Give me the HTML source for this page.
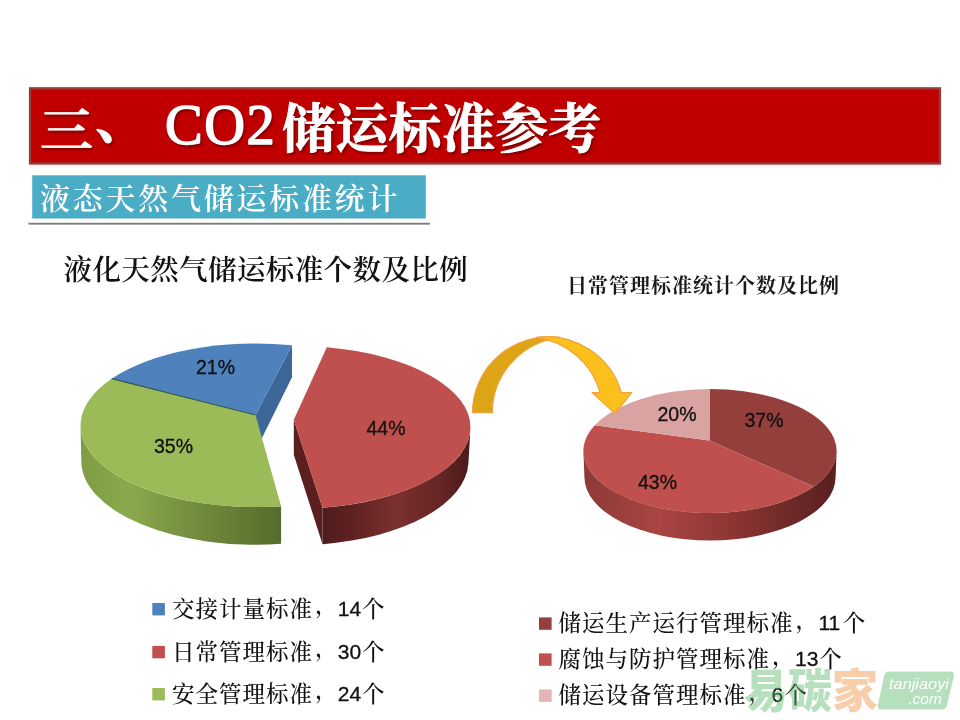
<!DOCTYPE html>
<html lang="zh-CN"><head><meta charset="utf-8"><title>CO2储运标准参考</title>
<style>
html,body{margin:0;padding:0;background:#fff;}
body{width:960px;height:720px;overflow:hidden;font-family:"Liberation Sans","Noto Sans CJK SC",sans-serif;}
svg{display:block}
</style></head><body>
<svg width="960" height="720" viewBox="0 0 960 720">
<rect width="960" height="720" fill="#ffffff"/>
<defs>
<linearGradient id="gGreenWall" x1="0" x2="1" y1="0" y2="0"><stop offset="0" stop-color="#7f9d44"/><stop offset="0.25" stop-color="#8aa94c"/><stop offset="0.6" stop-color="#6f8a3c"/><stop offset="1" stop-color="#566c2c"/></linearGradient>
<linearGradient id="gRedWall" x1="0" x2="1" y1="0" y2="0"><stop offset="0" stop-color="#4e1c1b"/><stop offset="0.2" stop-color="#5f2221"/><stop offset="0.5" stop-color="#7b302e"/><stop offset="0.8" stop-color="#642524"/><stop offset="1" stop-color="#4a1a19"/></linearGradient>
<linearGradient id="gRWall" x1="0" x2="1" y1="0" y2="0"><stop offset="0" stop-color="#8d3a38"/><stop offset="0.3" stop-color="#a94542"/><stop offset="0.6" stop-color="#8a3533"/><stop offset="0.85" stop-color="#6a2827"/><stop offset="1" stop-color="#571f1e"/></linearGradient>
<linearGradient id="gArrowD" x1="0" x2="1" y1="1" y2="0"><stop offset="0" stop-color="#e9a71c"/><stop offset="1" stop-color="#dca018"/></linearGradient>
<filter id="sh" x="-5%" y="-20%" width="110%" height="160%"><feGaussianBlur stdDeviation="1.6"/></filter>
<filter id="tsh" x="-5%" y="-20%" width="110%" height="150%"><feGaussianBlur stdDeviation="1.2"/></filter>
<filter id="glow" x="-20%" y="-20%" width="140%" height="140%"><feGaussianBlur stdDeviation="2"/></filter>
</defs>
<rect x="29" y="160" width="912" height="7" fill="#b0b0b0" opacity="0.2" filter="url(#sh)"/>
<rect x="30.1" y="88.4" width="909.8" height="75" fill="#c00000" stroke="#963a36" stroke-width="2.4"/>
<g font-family="'Liberation Serif','Noto Serif CJK SC',serif" font-weight="700" font-size="53" fill="#4a0000" opacity="0.55" filter="url(#tsh)" transform="translate(1.5,2)" stroke="#4a0000" stroke-width="1">
<text x="40" y="146.5" transform="translate(0,148) scale(1,0.885) translate(0,-148)">三</text>
<text x="95" y="139">、</text>
<text x="165" y="144" font-size="56.5" font-weight="400" letter-spacing="1.5" stroke-width="1.5">CO2</text>
<text x="282" y="147.8" letter-spacing="0.3">储运标准参考</text>
</g>
<g font-family="'Liberation Serif','Noto Serif CJK SC',serif" font-weight="700" font-size="53" fill="#fff" stroke="#fff" stroke-width="0.9" stroke-linejoin="round">
<text x="40" y="146.5" transform="translate(0,148) scale(1,0.885) translate(0,-148)">三</text>
<text x="95" y="139">、</text>
<text x="165" y="144" font-size="56.5" font-weight="400" letter-spacing="1.5" stroke-width="1.5">CO2</text>
<text x="282" y="147.8" letter-spacing="0.3">储运标准参考</text>
</g>
<rect x="28.5" y="221" width="401.5" height="3.6" fill="#7a7a7a"/>
<rect x="28.5" y="171.5" width="401.5" height="51.3" fill="#ffffff"/>
<rect x="32.2" y="175.3" width="393.6" height="43.2" fill="#4bacc6"/>
<text x="40" y="208.5" font-family="'Liberation Serif','Noto Serif CJK SC',serif" font-weight="600" font-size="30" fill="#fff" letter-spacing="2.75">液态天然气储运标准统计</text>
<text x="63.5" y="279.5" font-family="'Liberation Serif','Noto Serif CJK SC',serif" font-weight="600" font-size="28.5" fill="#111" letter-spacing="0.4">液化天然气储运标准个数及比例</text>
<text x="567" y="293" font-family="'Liberation Serif','Noto Serif CJK SC',serif" font-weight="700" font-size="20" fill="#1a1a1a" letter-spacing="1.0">日常管理标准统计个数及比例</text>
<path d="M255.5 415.0 L292.0 345.3 L292.0 377.3 L255.5 451.0 Z" fill="#3d6799"/>
<path d="M80.5 425.3 A175 81.8 0 0 0 281.1 506.2 L281.1 543.8 A174.2 83.6 0 0 1 81.3 460.8 Z" fill="url(#gGreenWall)"/>
<path d="M255.5 415.0 L292.0 345.3 A175 81.8 0 0 0 111.7 378.7 Z" fill="#4f81bd"/>
<path d="M255.5 415.0 L111.7 378.7 A175 81.8 0 0 0 281.1 506.2 Z" fill="#9bbb59"/>
<path d="M111.7 378.7 L255.5 415.0" stroke="#2f5a4a" stroke-width="1.2" fill="none"/>
<path d="M293.8 419.8 L322.5 507.7 L322.5 544.2 L293.8 454.8 Z" fill="#5a1f1e"/>
<path d="M470.5 427.3 A176.5 81.5 0 0 1 322.5 507.7 L322.5 544.2 A174.5 84.5 0 0 0 468.4 463.4 Z" fill="url(#gRedWall)"/>
<path d="M293.8 419.8 L326.8 347.2 A176.5 81.5 0 0 1 322.5 507.7 Z" fill="#c0504d"/>
<path d="M583.4 451.0 A126.6 62 0 0 0 836.6 451.0 L835.6 477.0 A125.6 63.5 0 0 1 584.4 477.0 Z" fill="url(#gRWall)"/>
<path d="M709.5 440.6 L709.6 389.0 A126.6 62 0 0 1 813.7 486.6 Z" fill="#953f3c"/>
<path d="M709.5 440.6 L813.7 486.6 A126.6 62 0 0 1 594.8 425.3 Z" fill="#c0504d"/>
<path d="M709.5 440.6 L594.8 425.3 A126.6 62 0 0 1 709.6 389.0 Z" fill="#d9a3a1"/>
<path d="M472.5 412.7 A77.5 76 0 0 1 560 337.3 A77.5 76 0 0 0 492.3 412.7 Z" fill="#dda416" stroke="#f2a23c" stroke-width="1.3" stroke-linejoin="round"/>
<path d="M536 337.4 A77.5 76 0 0 1 621.2 392.6 L631.7 392.6 L615 413.6 L592.1 392.6 L600.2 392.6 A77.5 76 0 0 0 536 337.4 Z" fill="#fcc01c" stroke="#f2a23c" stroke-width="1.3" stroke-linejoin="round"/>
<g font-family="'Liberation Sans',sans-serif" font-size="19.5" fill="#111" stroke="#111" stroke-width="0.3" text-anchor="middle">
<text x="215.5" y="374">21%</text><text x="173.5" y="453">35%</text><text x="386" y="435">44%</text>
<text x="677" y="421">20%</text><text x="764" y="427">37%</text><text x="657.5" y="489">43%</text>
</g>
<rect x="152.3" y="603" width="12.6" height="12.4" fill="#4f81bd"/>
<g font-family="'Liberation Sans','Noto Serif CJK SC',serif" fill="#111">
<text x="171.9" y="616.9" font-weight="500" font-size="22.5" letter-spacing="1">交接计量标准<tspan dx="2" dy="-3.5">，</tspan></text>
<text x="337.8" y="615.7" font-size="21" stroke="#111" stroke-width="0.3">14</text>
<text x="362.0" y="616.9" font-weight="500" font-size="22.5">个</text>
</g>
<rect x="152.3" y="645.9" width="12.6" height="12.4" fill="#c0504d"/>
<g font-family="'Liberation Sans','Noto Serif CJK SC',serif" fill="#111">
<text x="171.9" y="659.8" font-weight="500" font-size="22.5" letter-spacing="1">日常管理标准<tspan dx="2" dy="-3.5">，</tspan></text>
<text x="337.8" y="658.6" font-size="21" stroke="#111" stroke-width="0.3">30</text>
<text x="362.0" y="659.8" font-weight="500" font-size="22.5">个</text>
</g>
<rect x="152.3" y="688" width="12.6" height="12.4" fill="#9bbb59"/>
<g font-family="'Liberation Sans','Noto Serif CJK SC',serif" fill="#111">
<text x="171.9" y="701.9" font-weight="500" font-size="22.5" letter-spacing="1">安全管理标准<tspan dx="2" dy="-3.5">，</tspan></text>
<text x="337.8" y="700.7" font-size="21" stroke="#111" stroke-width="0.3">24</text>
<text x="362.0" y="701.9" font-weight="500" font-size="22.5">个</text>
</g>
<rect x="539" y="617.4" width="12.6" height="12.4" fill="#953f3c"/>
<g font-family="'Liberation Sans','Noto Serif CJK SC',serif" fill="#111">
<text x="558.6" y="631.3" font-weight="500" font-size="22.5" letter-spacing="1">储运生产运行管理标准<tspan dx="2" dy="-3.5">，</tspan></text>
<text x="818.5" y="630.1" font-size="21" stroke="#111" stroke-width="0.3">11</text>
<text x="842.7" y="631.3" font-weight="500" font-size="22.5">个</text>
</g>
<rect x="539" y="653.4" width="12.6" height="12.4" fill="#c0504d"/>
<g font-family="'Liberation Sans','Noto Serif CJK SC',serif" fill="#111">
<text x="558.6" y="667.3" font-weight="500" font-size="22.5" letter-spacing="1">腐蚀与防护管理标准<tspan dx="2" dy="-3.5">，</tspan></text>
<text x="795.0" y="666.1" font-size="21" stroke="#111" stroke-width="0.3">13</text>
<text x="819.2" y="667.3" font-weight="500" font-size="22.5">个</text>
</g>
<rect x="539" y="689.4" width="12.6" height="12.4" fill="#e3b5b3"/>
<g font-family="'Liberation Sans','Noto Serif CJK SC',serif" fill="#111">
<text x="558.6" y="703.3" font-weight="500" font-size="22.5" letter-spacing="1">储运设备管理标准<tspan dx="2" dy="-3.5">，</tspan></text>
<text x="771.5" y="702.1" font-size="21" stroke="#111" stroke-width="0.3">6</text>
<text x="784.3" y="703.3" font-weight="500" font-size="22.5">个</text>
</g>
<g opacity="0.43">
<text x="744" y="706.5" font-family="'Liberation Sans','Noto Sans CJK SC',sans-serif" font-weight="900" font-size="46" fill="#58b868" textLength="88" lengthAdjust="spacingAndGlyphs">易碳</text>
<text x="832" y="706.5" font-family="'Liberation Sans','Noto Sans CJK SC',sans-serif" font-weight="900" font-size="46" fill="#f08c3c">家</text>
<path d="M888 671.5 H950 Q955 671.5 954 676 L947 705 Q946 709.5 941 709.5 H882 Q877 709.5 878 705 L884 676 Q885 671.5 888 671.5 Z" fill="#58b868"/>
<text x="919" y="689" font-family="'Liberation Sans',sans-serif" font-style="italic" font-size="15.5" fill="#fff" text-anchor="middle" textLength="60" lengthAdjust="spacingAndGlyphs">tanjiaoyi</text>
<text x="925" y="704" font-family="'Liberation Sans',sans-serif" font-style="italic" font-size="15.5" fill="#fff" text-anchor="middle">.com</text>
</g>
</svg>
</body></html>
